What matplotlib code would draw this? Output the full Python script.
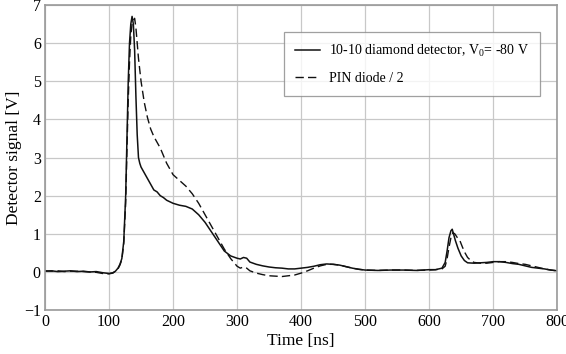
import matplotlib.pyplot as plt

# diamond detector (solid)
t_dia = [0, 10, 20, 30, 40, 50, 60, 70, 80, 90, 100, 106, 110, 114, 117, 120, 123, 126, 128, 130, 132,
         134, 136, 138, 140, 142, 144, 146, 148, 150, 155, 160, 165, 170, 175, 180, 185, 190, 200,
         210, 220, 230, 240, 250, 260, 270, 280, 290, 300, 305, 310, 315, 320, 330, 340, 350, 360, 370,
         380, 390, 400, 410, 420, 430, 440, 450, 460, 470, 480, 490, 500, 520, 540, 560, 580, 600, 610,
         620, 625, 628, 631, 634, 636, 638, 641, 645, 650, 655, 660, 670, 680, 690, 700, 710, 720, 730,
         740, 750, 760, 770, 780, 790, 800]
v_dia = [0.02, 0.03, 0.01, 0.02, 0.03, 0.01, 0.02, 0.0, 0.01, -0.02, -0.04, -0.02, 0.02, 0.1, 0.2, 0.35, 0.8, 2.0,
         3.5, 5.0, 6.0, 6.5, 6.7, 6.5, 5.8, 4.6, 3.6, 3.0, 2.85, 2.75, 2.6, 2.45, 2.3, 2.15, 2.1, 2.0,
         1.95, 1.88, 1.8, 1.75, 1.72, 1.65, 1.5, 1.3, 1.05, 0.8, 0.55, 0.42, 0.36, 0.34, 0.38, 0.36, 0.26,
         0.2, 0.16, 0.13, 0.11, 0.1, 0.08, 0.08, 0.1, 0.12, 0.15, 0.19, 0.21, 0.2, 0.18, 0.14, 0.1, 0.07,
         0.05, 0.04, 0.05, 0.05, 0.04, 0.06, 0.06, 0.1, 0.25, 0.55, 0.9, 1.08, 1.12, 1.0, 0.82, 0.62, 0.42,
         0.3, 0.24, 0.23, 0.24, 0.25, 0.27, 0.27, 0.25, 0.22, 0.2, 0.16, 0.12, 0.1, 0.08, 0.05, 0.03]

# PIN diode / 2 (dashed)
t_pin = [0, 10, 20, 30, 40, 50, 60, 70, 80, 90, 100, 106, 110, 114, 117, 120, 123, 126,
         128, 130, 132, 134, 136, 138, 140, 142, 144, 146, 150, 155, 160, 165, 170, 175, 180,
         185, 190, 200, 210, 220, 230, 240, 250, 260, 270, 280, 290, 300, 305, 310, 315, 320,
         330, 340, 350, 360, 370, 380, 390, 400, 410, 420, 430, 440, 450, 460, 470, 480,
         490, 500, 520, 540, 560, 580, 600, 610, 620, 625, 628, 631, 634, 637, 640, 644,
         648, 652, 656, 660, 665, 670, 680, 690, 700, 710, 720, 730, 740, 750, 760, 770,
         780, 790, 800]
v_pin = [0.03, 0.02, 0.03, 0.01, 0.02, 0.02, 0.01, 0.0, -0.01, -0.04, -0.05, -0.03, 0.02, 0.08, 0.18, 0.32, 0.75, 1.8,
         3.2, 4.5, 5.5, 6.2, 6.5, 6.6, 6.65, 6.4, 6.0, 5.6, 5.0, 4.45, 4.05, 3.75, 3.55, 3.4, 3.25,
         3.05, 2.85, 2.55, 2.4, 2.25, 2.05, 1.8, 1.5, 1.2, 0.9, 0.6, 0.35, 0.15, 0.1, 0.13, 0.1, 0.03,
         -0.03, -0.07, -0.1, -0.11, -0.12, -0.1, -0.08, -0.03, 0.03, 0.1, 0.16, 0.2, 0.2, 0.18, 0.14, 0.1,
         0.07, 0.05, 0.04, 0.05, 0.05, 0.04, 0.05, 0.06, 0.08, 0.15, 0.35, 0.65, 0.9, 1.03, 1.0, 0.9,
         0.82, 0.65, 0.5, 0.38, 0.3, 0.25, 0.23, 0.23, 0.25, 0.27, 0.27, 0.25, 0.22, 0.2, 0.16, 0.12,
         0.08, 0.05, 0.03]

x_ticks = [0, 100, 200, 300, 400, 500, 600, 700, 800]
y_ticks = [-1, 0, 1, 2, 3, 4, 5, 6, 7]

plt.rcParams['font.family'] = ['Liberation Serif', 'DejaVu Serif']
plt.rcParams['mathtext.fontset'] = 'custom'
plt.rcParams['mathtext.rm'] = 'Liberation Serif'

fig = plt.figure(figsize=(5.66, 3.54), dpi=100)
ax = fig.add_axes([0.0795, 0.124, 0.905, 0.862])

ax.plot(t_dia, v_dia, color='#111111', lw=1.1, label='10-10 diamond detector, V$_\\mathrm{0}$= -80 V')
ax.plot(t_pin, v_pin, color='#111111', lw=1.0, ls=(0, (6, 3)), label='PIN diode / 2')

ax.set_xlim(0, 800)
ax.set_ylim(-1, 7)
ax.set_xticks(x_ticks)
ax.set_yticks(y_ticks)
ax.tick_params(length=0, labelsize=11.5, pad=3)
ax.grid(True, color='#c8c8c8', lw=0.9)
ax.set_axisbelow(True)
for s in ax.spines.values():
    s.set_color('#999999')
    s.set_linewidth(1.2)

ax.set_xlabel('Time [ns]', fontsize=12.5, labelpad=2)
ax.set_ylabel('Detector signal [V]', fontsize=12.5, labelpad=1)

leg = ax.legend(loc='upper right', bbox_to_anchor=(0.966, 0.913), fontsize=10, frameon=True,
                fancybox=False, edgecolor='#888888', handlelength=1.8, borderpad=0.8, labelspacing=0.95,
                handletextpad=0.6, borderaxespad=0)
leg.get_frame().set_linewidth(0.9)

fig.savefig('out.png', dpi=100)
